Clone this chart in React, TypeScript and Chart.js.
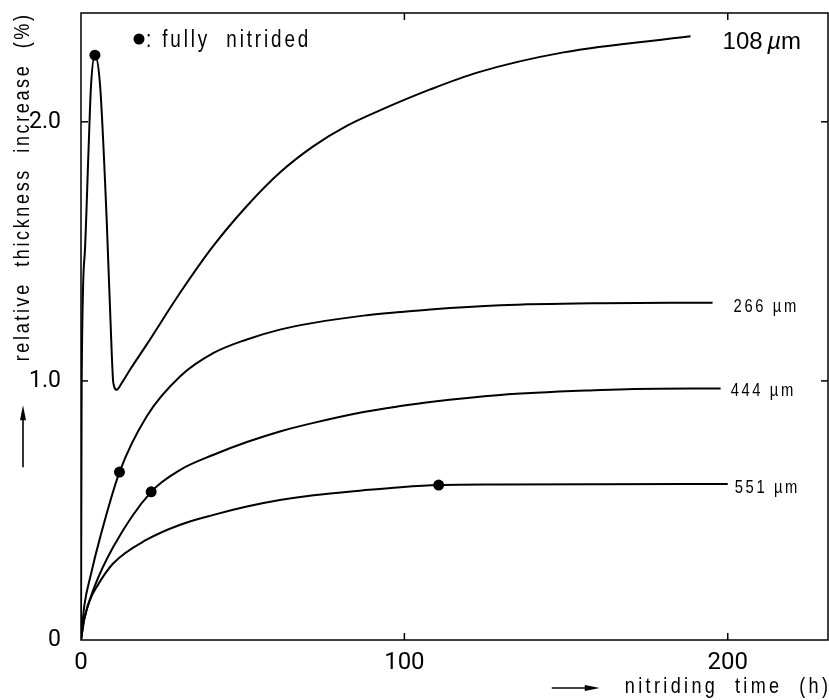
import React, { useEffect, useRef } from 'react';
import { Chart, registerables } from 'chart.js';

Chart.register(...registerables);

// ---- data ----
const hours108 = [0, 0.2, 1.2, 2.3, 3.1, 4.3, 5.9, 7.95, 9.5, 10.0, 11.05, 12.6, 15.2, 20.3, 30.7, 40.8, 51.3, 61.6, 71.8, 82.3, 92.6, 108, 122.5, 149.2, 188.5];
const values108 = [0, 0.98, 1.5, 1.88, 2.14, 2.257, 2.14, 1.62, 1.108, 0.992, 0.966, 0.992, 1.044, 1.14, 1.341, 1.519, 1.675, 1.805, 1.905, 1.985, 2.045, 2.125, 2.19, 2.268, 2.33];

const hours266 = [0, 1, 3, 6, 11.9, 20.3, 30.7, 41.0, 51.3, 61.5, 71.9, 87.4, 98.8, 108, 129.7, 160.7, 195.3];
const values266 = [0, 0.13, 0.25, 0.4, 0.648, 0.863, 1.018, 1.108, 1.16, 1.198, 1.224, 1.252, 1.266, 1.276, 1.292, 1.3, 1.302];

const hours444 = [0, 1, 4, 10, 21.7, 30.7, 41.0, 51.3, 61.5, 71.9, 87.4, 98.8, 108, 129.7, 160.7, 171, 197.8];
const values444 = [0, 0.08, 0.2, 0.36, 0.572, 0.657, 0.715, 0.764, 0.805, 0.838, 0.88, 0.903, 0.919, 0.946, 0.965, 0.969, 0.971];

const hours551 = [0, 1, 2.8, 4.9, 10, 20.3, 30.7, 41.0, 51.3, 61.5, 71.9, 87.4, 98.8, 110.6, 129.7, 160, 200];
const values551 = [0, 0.08, 0.155, 0.206, 0.296, 0.387, 0.445, 0.483, 0.515, 0.54, 0.559, 0.578, 0.59, 0.598, 0.6, 0.601, 0.602];

const seriesLabels = ['108 µm', '266 µm', '444 µm', '551 µm'];

const dotHours = [4.3, 11.9, 21.7, 110.6];
const dotValues = [2.257, 0.648, 0.572, 0.598];

const xTicks = [0, 100, 200];
const yTicks = [0, 1, 2];

const xTitle = 'nitriding  time  (h)';
const yTitle = 'relative  thickness  increase  (%)';
const legendText = ': fully  nitrided';

// ---- styling ----
const REGULAR = "'Liberation Sans', Arial, sans-serif";
const TICKFONT = "Roboto, 'Liberation Sans', sans-serif";
const SQ = 0.82; // horizontal squeeze to imitate a narrow typeface

const seriesHours = [hours108, hours266, hours444, hours551];
const seriesValues = [values108, values266, values444, values551];

function narrowText(ctx: any, text: string, x: number, y: number, size: number, ls: number, align: 'left' | 'right' = 'left', baseline: string = 'alphabetic') {
  ctx.save();
  ctx.font = `${size}px ${REGULAR}`;
  ctx.letterSpacing = `${ls}px`;
  ctx.textAlign = 'left';
  ctx.textBaseline = baseline;
  const w = (ctx.measureText(text).width - ls) * SQ;
  ctx.translate(align === 'right' ? x - w : x, y);
  ctx.scale(SQ, 1);
  ctx.fillText(text, 0, 0);
  ctx.restore();
  return w;
}

const decorPlugin = {
  id: 'decor',
  afterDraw(chart: any) {
    const { ctx, chartArea: a, scales } = chart;
    const xs = scales.x;
    const ys = scales.y;
    ctx.save();
    ctx.strokeStyle = '#000';
    ctx.fillStyle = '#000';
    ctx.lineWidth = 1.5;
    ctx.strokeRect(a.left, a.top, a.right - a.left, a.bottom - a.top);

    const seg = (x1: number, y1: number, x2: number, y2: number) => {
      ctx.beginPath();
      ctx.moveTo(x1, y1);
      ctx.lineTo(x2, y2);
      ctx.stroke();
    };
    const tl = 7;
    xTicks.filter((v) => v > 0).forEach((v) => {
      const px = xs.getPixelForValue(v);
      seg(px, a.bottom, px, a.bottom - tl);
      seg(px, a.top, px, a.top + tl);
    });
    yTicks.filter((v) => v > 0).forEach((v) => {
      const py = ys.getPixelForValue(v);
      seg(a.left, py, a.left + tl, py);
      seg(a.right, py, a.right - tl, py);
    });

    // y-axis title (rotated) + arrow
    ctx.save();
    ctx.translate(23, a.top + 2);
    ctx.rotate(-Math.PI / 2);
    const yw = narrowText(ctx, yTitle, 0, 0, 22, 3.2, 'right', 'middle');
    ctx.restore();
    const tipY = a.top + 2 + yw + 44;
    ctx.lineWidth = 1.6;
    seg(23, tipY + 62, 23, tipY + 10);
    ctx.beginPath();
    ctx.moveTo(23, tipY);
    ctx.lineTo(20, tipY + 15);
    ctx.lineTo(26, tipY + 15);
    ctx.closePath();
    ctx.fill();

    // x-axis title + arrow
    const xw = narrowText(ctx, xTitle, a.right, 693, 22, 4.1, 'right');
    const xStart = a.right - xw;
    const ay = 688;
    seg(xStart - 73, ay, xStart - 35, ay);
    ctx.beginPath();
    ctx.moveTo(xStart - 25, ay);
    ctx.lineTo(xStart - 40, ay - 3);
    ctx.lineTo(xStart - 40, ay + 3);
    ctx.closePath();
    ctx.fill();

    // legend: dot + text
    ctx.beginPath();
    ctx.arc(a.left + 58, a.top + 26, 5.5, 0, Math.PI * 2);
    ctx.fill();
    narrowText(ctx, legendText, a.left + 65, a.top + 34, 23, 3.5);

    // series labels near line ends
    const offsets = [
      [32, 6],
      [21, 4],
      [10, 3],
      [7, 4],
    ];
    seriesLabels.forEach((lab, i) => {
      const h = seriesHours[i];
      const v = seriesValues[i];
      const ex = xs.getPixelForValue(h[h.length - 1]);
      const ey = ys.getPixelForValue(v[v.length - 1]);
      const lx = ex + offsets[i][0];
      const ly = ey + offsets[i][1];
      if (i === 0) {
        const [num, unit] = lab.split(' ');
        ctx.save();
        ctx.textBaseline = 'middle';
        ctx.textAlign = 'left';
        (ctx as any).letterSpacing = '0px';
        ctx.font = `24px ${REGULAR}`;
        ctx.fillText(num, lx, ly);
        let cx = lx + ctx.measureText(num + ' ').width - 2;
        ctx.font = `italic 24px ${REGULAR}`;
        ctx.fillText(unit[0], cx, ly);
        cx += ctx.measureText(unit[0]).width;
        ctx.font = `24px ${REGULAR}`;
        ctx.fillText(unit.slice(1), cx, ly);
        ctx.restore();
      } else {
        narrowText(ctx, lab, lx, ly, 18, 3.2, 'left', 'middle');
      }
    });
    ctx.restore();
  },
};

export default function App() {
  const ref = useRef<HTMLCanvasElement | null>(null);

  useEffect(() => {
    const canvas = ref.current;
    if (!canvas) return;
    const lineSets = seriesLabels.map((label, i) => ({
      type: 'line' as const,
      label,
      data: seriesHours[i].map((x, j) => ({ x, y: seriesValues[i][j] })),
      borderColor: '#000',
      backgroundColor: '#000',
      borderWidth: 2,
      pointRadius: 0,
      cubicInterpolationMode: 'monotone' as const,
      fill: false,
    }));
    const dotSet = {
      type: 'scatter' as const,
      label: 'fully nitrided',
      data: dotHours.map((x, j) => ({ x, y: dotValues[j] })),
      backgroundColor: '#000',
      borderColor: '#000',
      pointRadius: 5.5,
      borderWidth: 0,
    };
    const chart = new Chart(canvas, {
      type: 'line',
      data: { datasets: [...lineSets, dotSet] as any },
      options: {
        animation: false,
        responsive: false,
        devicePixelRatio: 1,
        layout: { autoPadding: false, padding: { top: 13, right: 1, left: 0, bottom: 0 } },
        plugins: { legend: { display: false }, tooltip: { enabled: false } },
        scales: {
          x: {
            type: 'linear',
            min: 0,
            max: 231,
            afterBuildTicks: (s: any) => {
              s.ticks = xTicks.map((v) => ({ value: v }));
            },
            afterFit: (s: any) => {
              s.height = 60;
              s.paddingLeft = 0;
              s.paddingRight = 0;
            },
            grid: { display: false },
            border: { display: false },
            ticks: {
              color: '#000',
              font: { family: TICKFONT, size: 24 },
              padding: 1,
              maxRotation: 0,
              autoSkip: false,
              callback: (v: any) => String(v),
            },
          },
          y: {
            type: 'linear',
            min: 0,
            max: 2.42,
            afterBuildTicks: (s: any) => {
              s.ticks = yTicks.map((v) => ({ value: v }));
            },
            afterFit: (s: any) => {
              s.width = 81;
              s.paddingTop = 0;
              s.paddingBottom = 0;
            },
            grid: { display: false },
            border: { display: false },
            ticks: {
              color: '#000',
              font: { family: TICKFONT, size: 23 },
              padding: 12,
              callback: (v: any) => (Number(v) === 0 ? '0' : Number(v).toFixed(1)),
            },
          },
        },
      } as any,
      plugins: [decorPlugin],
    });
    return () => chart.destroy();
  }, []);

  return (
    <div style={{ position: 'fixed', left: 0, top: 0, width: 829, height: 700, background: '#fff' }}>
      <canvas ref={ref} width={829} height={700} style={{ display: 'block', width: 829, height: 700 }} />
    </div>
  );
}
